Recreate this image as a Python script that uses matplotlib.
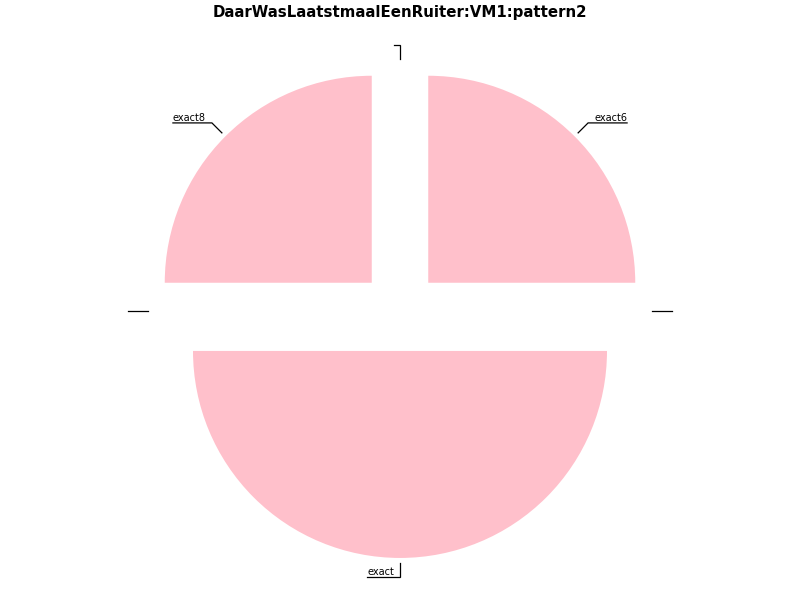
import numpy as np
import matplotlib
matplotlib.use("Agg")
import matplotlib.pyplot as plt

TITLE = "DaarWasLaatstmaalEenRuiter:VM1:pattern2"
labels = ["", "exact6", "", "exact8", "", "exact"]
values = [0, 25, 0, 25, 0, 50]

R_PX = 207.0          # pie radius in pixels
EXPLODE = 0.193
R_START, R_ELBOW = 1.217, 1.285
PAD_PX = 6

fig = plt.figure(figsize=(8, 6), dpi=100)
ax = fig.add_axes([0, 0, 1, 1])
wedges, _ = ax.pie(values, explode=[EXPLODE] * len(values), colors=["pink"] * len(values),
                   startangle=0, counterclock=True, radius=1.0)
ax.set_xlim(-400 / R_PX, 400 / R_PX)
ax.set_ylim(-289 / R_PX, 311 / R_PX)
ax.set_aspect("auto")
ax.axis("off")

fig.text(0.5, 1 - 13 / 600, TITLE, ha="center", va="center",
         fontsize=10.8, fontweight="bold")

fig.canvas.draw()
renderer = fig.canvas.get_renderer()
pad = PAD_PX / R_PX

for w, lab in zip(wedges, labels):
    th = np.deg2rad((w.theta1 + w.theta2) / 2)
    c, s = np.cos(th), np.sin(th)
    x0, y0 = R_START * c, R_START * s
    x1, y1 = R_ELBOW * c, R_ELBOW * s
    right = c > 0.01
    if lab:
        t = ax.text(0, 0, lab, fontsize=7)
        tw = t.get_window_extent(renderer).width / R_PX
        t.remove()
    else:
        tw = 0
    x2 = x1 + (tw + pad) * (1 if right else -1)
    ax.plot([x0, x1, x2], [y0, y1, y1], color="black", lw=0.9,
            solid_joinstyle="miter", clip_on=False)
    if lab:
        tx = x1 + pad if right else x2
        ax.text(tx, y1 + 1.5 / R_PX, lab, fontsize=7, ha="left", va="baseline")

fig.savefig("out.png", dpi=100)
